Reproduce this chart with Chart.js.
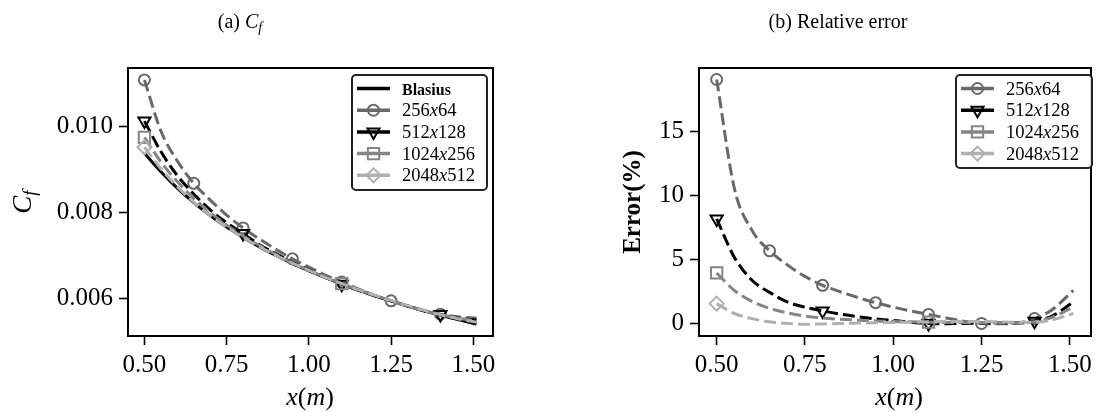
<!DOCTYPE html>
<html>
<head>
<meta charset="utf-8">
<script src="https://cdn.jsdelivr.net/npm/chart.js@4.4.1/dist/chart.umd.min.js"></script>
<style>
  html, body { margin: 0; padding: 0; background: #fff; }
  #wrap { position: relative; width: 1101px; height: 412px; }
  #c1 { position: absolute; left: 0; top: 0; }
  #c2 { position: absolute; left: 550px; top: 0; }
</style>
</head>
<body>
<div id="wrap">
  <canvas id="c1" width="550" height="412"></canvas>
  <canvas id="c2" width="551" height="412"></canvas>
</div>
<script>
// x positions along the plate (m)
const xPos = [0.50, 0.55, 0.60, 0.65, 0.70, 0.75, 0.80, 0.85, 0.90, 0.95, 1.00,
              1.05, 1.10, 1.15, 1.20, 1.25, 1.30, 1.35, 1.40, 1.45, 1.51];

// (a) skin friction coefficient
const cfBlasius = [0.00938, 0.00895, 0.00857, 0.00823, 0.00793, 0.00766, 0.00742, 0.00720, 0.00700, 0.00681, 0.00664,
                   0.00648, 0.00633, 0.00619, 0.00606, 0.00594, 0.00582, 0.00571, 0.00561, 0.00551, 0.00540];
const cf256 = [0.01109, 0.00990, 0.00920, 0.00868, 0.00829, 0.00794, 0.00764, 0.00738, 0.00714, 0.00692, 0.00673,
               0.00654, 0.00638, 0.00622, 0.00607, 0.00594, 0.00582, 0.00571, 0.00563, 0.00557, 0.00554];
const cf512 = [0.01013, 0.00942, 0.00886, 0.00843, 0.00806, 0.00776, 0.00751, 0.00725, 0.00704, 0.00684, 0.00666,
               0.00649, 0.00633, 0.00619, 0.00606, 0.00594, 0.00582, 0.00571, 0.00562, 0.00554, 0.00549];
const cf1024 = [0.00975, 0.00918, 0.00872, 0.00833, 0.00800, 0.00771, 0.00745, 0.00723, 0.00702, 0.00682, 0.00665,
                0.00649, 0.00634, 0.00620, 0.00607, 0.00594, 0.00582, 0.00571, 0.00562, 0.00554, 0.00547];
const cf2048 = [0.00952, 0.00902, 0.00860, 0.00824, 0.00793, 0.00766, 0.00742, 0.00720, 0.00700, 0.00682, 0.00665,
                0.00649, 0.00634, 0.00620, 0.00607, 0.00595, 0.00583, 0.00572, 0.00562, 0.00553, 0.00544];

// (b) relative error (%)
const err256 = [19.1, 10.6, 7.3, 5.7, 4.6, 3.7, 3.0, 2.5, 2.05, 1.65, 1.3,
                1.0, 0.73, 0.45, 0.2, 0.02, 0.0, 0.05, 0.4, 1.1, 2.6];
const err512 = [8.2, 5.2, 3.4, 2.45, 1.7, 1.3, 1.0, 0.75, 0.55, 0.38, 0.25,
                0.12, 0.02, 0.0, 0.02, 0.05, 0.05, 0.05, 0.2, 0.6, 1.7];
const err1024 = [3.97, 2.6, 1.75, 1.2, 0.85, 0.6, 0.45, 0.35, 0.28, 0.22, 0.18,
                 0.15, 0.12, 0.1, 0.1, 0.08, 0.05, 0.05, 0.15, 0.5, 1.3];
const err2048 = [1.57, 0.8, 0.4, 0.15, 0.02, -0.05, -0.02, 0.02, 0.05, 0.08, 0.1,
                 0.12, 0.15, 0.17, 0.18, 0.18, 0.15, 0.12, 0.12, 0.3, 0.8];

// where the markers sit on each curve
const mark256 = [0.50, 0.65, 0.80, 0.95, 1.10, 1.25, 1.40];
const mark512 = [0.50, 0.80, 1.10, 1.40];
const mark1024 = [0.50, 1.10];
const mark2048 = [0.50];

const gridNames = ['256x64', '512x128', '1024x256', '2048x512'];

const xTicks = [0.50, 0.75, 1.00, 1.25, 1.50];
const xTickLabels = ['0.50', '0.75', '1.00', '1.25', '1.50'];
const cfTicks = [0.006, 0.008, 0.010];
const cfTickLabels = ['0.006', '0.008', '0.010'];
const errTicks = [0, 5, 10, 15];
const errTickLabels = ['0', '5', '10', '15'];

// look of each grid series
const looks = [
  { color: '#696969', marker: 'circle', rot: 0, r: 5.5 },
  { color: '#000000', marker: 'triangle', rot: 180, r: 7 },
  { color: '#858585', marker: 'rect', rot: 0, r: 8 },
  { color: '#b0b0b0', marker: 'rectRot', rot: 0, r: 7 }
];

const SERIF = "'Liberation Serif', 'DejaVu Serif', serif";

function curve(vals, marks, look, label, idx) {
  return {
    label: label,
    data: xPos.map((x, i) => ({ x: x, y: vals[i] })),
    borderColor: look.color,
    borderWidth: 3,
    borderDash: [12, 5],
    pointStyle: look.marker,
    pointRotation: look.rot,
    pointRadius: xPos.map(x => marks.includes(x) ? look.r : 0),
    pointBorderColor: look.color,
    pointBackgroundColor: 'rgba(0,0,0,0)',
    pointBorderWidth: 2,
    cubicInterpolationMode: 'monotone',
    fill: false,
    order: -idx,
    look: look
  };
}

// marker shapes for the hand drawn legend
function drawMarker(ctx, look, x, y) {
  const r = look.r;
  ctx.beginPath();
  if (look.marker === 'circle') {
    ctx.arc(x, y, r, 0, Math.PI * 2);
  } else if (look.marker === 'triangle') {
    ctx.moveTo(x, y + r);
    ctx.lineTo(x - r * 0.866, y - r * 0.5);
    ctx.lineTo(x + r * 0.866, y - r * 0.5);
    ctx.closePath();
  } else if (look.marker === 'rect') {
    const h = r * 0.707;
    ctx.rect(x - h, y - h, 2 * h, 2 * h);
  } else {
    ctx.moveTo(x, y - r);
    ctx.lineTo(x + r, y);
    ctx.lineTo(x, y + r);
    ctx.lineTo(x - r, y);
    ctx.closePath();
  }
  ctx.lineWidth = 2;
  ctx.strokeStyle = look.color;
  ctx.setLineDash([]);
  ctx.stroke();
}

function drawRuns(ctx, it) {
  ctx.save();
  ctx.translate(it.x, it.y);
  if (it.rot) ctx.rotate(it.rot);
  ctx.fillStyle = '#000';
  ctx.textBaseline = 'alphabetic';
  ctx.textAlign = 'left';
  let total = 0;
  it.runs.forEach(r => { ctx.font = r.font; r.w = ctx.measureText(r.t).width; total += r.w; });
  let x = it.align === 'left' ? 0 : -total / 2;
  it.runs.forEach(r => { ctx.font = r.font; ctx.fillText(r.t, x, r.dy || 0); x += r.w; });
  ctx.restore();
}

// axes frame on all four sides
const frame = {
  id: 'frame',
  afterDatasetsDraw(chart) {
    const a = chart.chartArea, ctx = chart.ctx;
    ctx.save();
    ctx.strokeStyle = '#000';
    ctx.lineWidth = 2;
    ctx.strokeRect(a.left, a.top, a.right - a.left, a.bottom - a.top);
    ctx.restore();
  }
};

const texts = {
  id: 'texts',
  afterDraw(chart, args, opts) {
    (opts.items || []).forEach(it => drawRuns(chart.ctx, it));
  }
};

const legendBox = {
  id: 'legendBox',
  afterDraw(chart, args, o) {
    const ctx = chart.ctx;
    ctx.save();
    ctx.beginPath();
    ctx.roundRect(o.left, o.top, o.width, o.height, 4);
    ctx.fillStyle = 'rgba(255,255,255,0.85)';
    ctx.fill();
    ctx.strokeStyle = '#222';
    ctx.lineWidth = 2;
    ctx.stroke();
    chart.data.datasets.forEach((ds, i) => {
      const y = o.top + 13.5 + i * 21.7;
      const x0 = o.left + 5, x1 = x0 + 33, xm = (x0 + x1) / 2;
      ctx.beginPath();
      ctx.moveTo(x0, y);
      ctx.lineTo(x1, y);
      ctx.setLineDash([]);
      ctx.lineWidth = 3.5;
      ctx.strokeStyle = ds.borderColor;
      ctx.stroke();
      if (ds.look) drawMarker(ctx, ds.look, xm, y);
      let runs;
      if (ds.look) {
        const p = ds.label.split('x');
        runs = [
          { t: p[0], font: '18.5px ' + SERIF },
          { t: 'x', font: 'italic 18.5px ' + SERIF },
          { t: p[1], font: '18.5px ' + SERIF }
        ];
      } else {
        runs = [{ t: ds.label, font: 'bold 16px ' + SERIF }];
      }
      drawRuns(ctx, { x: x1 + 12, y: y + 6, align: 'left', runs: runs });
    });
    ctx.restore();
  }
};

function xScale() {
  return {
    type: 'linear', min: 0.45, max: 1.56,
    afterBuildTicks: s => { s.ticks = xTicks.map(v => ({ value: v })); },
    afterFit: s => { s.height = 76; s.paddingLeft = 0; s.paddingRight = 0; },
    ticks: { color: '#000', font: { family: SERIF, size: 25 }, padding: 5, maxRotation: 0, autoSkip: false,
             callback: (v, i) => xTickLabels[i] },
    grid: { drawOnChartArea: false, drawTicks: true, tickLength: 9, tickWidth: 1.6, tickColor: '#000' },
    border: { display: true, color: '#000', width: 2 }
  };
}

function yScale(min, max, ticks, labels, w) {
  return {
    type: 'linear', min: min, max: max,
    afterBuildTicks: s => { s.ticks = ticks.map(v => ({ value: v })); },
    afterFit: s => { s.width = w; s.paddingTop = 0; s.paddingBottom = 0; },
    ticks: { color: '#000', font: { family: SERIF, size: 25 }, padding: 6, autoSkip: false,
             callback: (v, i) => labels[i] },
    grid: { drawOnChartArea: false, drawTicks: true, tickLength: 9, tickWidth: 1.6, tickColor: '#000' },
    border: { display: true, color: '#000', width: 2 }
  };
}

const common = {
  responsive: false,
  animation: false,
  events: []
};

// (a) Cf
new Chart(document.getElementById('c1'), {
  type: 'line',
  data: {
    datasets: [
      {
        label: 'Blasius',
        data: xPos.map((x, i) => ({ x: x, y: cfBlasius[i] })),
        borderColor: '#000', borderWidth: 3, pointRadius: 0,
        cubicInterpolationMode: 'monotone', fill: false, order: 1
      },
      curve(cf256, mark256, looks[0], gridNames[0], 0),
      curve(cf512, mark512, looks[1], gridNames[1], 1),
      curve(cf1024, mark1024, looks[2], gridNames[2], 2),
      curve(cf2048, mark2048, looks[3], gridNames[3], 3)
    ]
  },
  options: Object.assign({}, common, {
    layout: { padding: { left: 0, right: 57, top: 68, bottom: 0 } },
    scales: {
      x: xScale(),
      y: yScale(0.005121, 0.011368, cfTicks, cfTickLabels, 128)
    },
    plugins: {
      legend: { display: false },
      tooltip: { enabled: false },
      legendBox: { left: 352, top: 75, width: 135, height: 115 },
      texts: {
        items: [
          { x: 240, y: 28, runs: [
            { t: '(a) ', font: '20px ' + SERIF },
            { t: 'C', font: 'italic 20px ' + SERIF },
            { t: 'f', font: 'italic 14px ' + SERIF, dy: 4 } ] },
          { x: 310, y: 405, runs: [
            { t: 'x', font: 'italic 26px ' + SERIF },
            { t: '(', font: '26px ' + SERIF },
            { t: 'm', font: 'italic 26px ' + SERIF },
            { t: ')', font: '26px ' + SERIF } ] },
          { x: 31, y: 202, rot: -Math.PI / 2, runs: [
            { t: 'C', font: 'italic 27px ' + SERIF },
            { t: 'f', font: 'italic 19px ' + SERIF, dy: 5 } ] }
        ]
      }
    }
  }),
  plugins: [frame, texts, legendBox]
});

// (b) relative error
new Chart(document.getElementById('c2'), {
  type: 'line',
  data: {
    datasets: [
      curve(err256, mark256, looks[0], gridNames[0], 0),
      curve(err512, mark512, looks[1], gridNames[1], 1),
      curve(err1024, mark1024, looks[2], gridNames[2], 2),
      curve(err2048, mark2048, looks[3], gridNames[3], 3)
    ]
  },
  options: Object.assign({}, common, {
    layout: { padding: { left: 0, right: 2, top: 68, bottom: 0 } },
    scales: {
      x: xScale(),
      y: yScale(-0.96, 20.0, errTicks, errTickLabels, 149)
    },
    plugins: {
      legend: { display: false },
      tooltip: { enabled: false },
      legendBox: { left: 406, top: 75, width: 136, height: 93 },
      texts: {
        items: [
          { x: 288, y: 28, runs: [ { t: '(b) Relative error', font: '20px ' + SERIF } ] },
          { x: 349, y: 405, runs: [
            { t: 'x', font: 'italic 26px ' + SERIF },
            { t: '(', font: '26px ' + SERIF },
            { t: 'm', font: 'italic 26px ' + SERIF },
            { t: ')', font: '26px ' + SERIF } ] },
          { x: 90, y: 202, rot: -Math.PI / 2, runs: [
            { t: 'Error(%)', font: 'bold 25px ' + SERIF } ] }
        ]
      }
    }
  }),
  plugins: [frame, texts, legendBox]
});
</script>
</body>
</html>
